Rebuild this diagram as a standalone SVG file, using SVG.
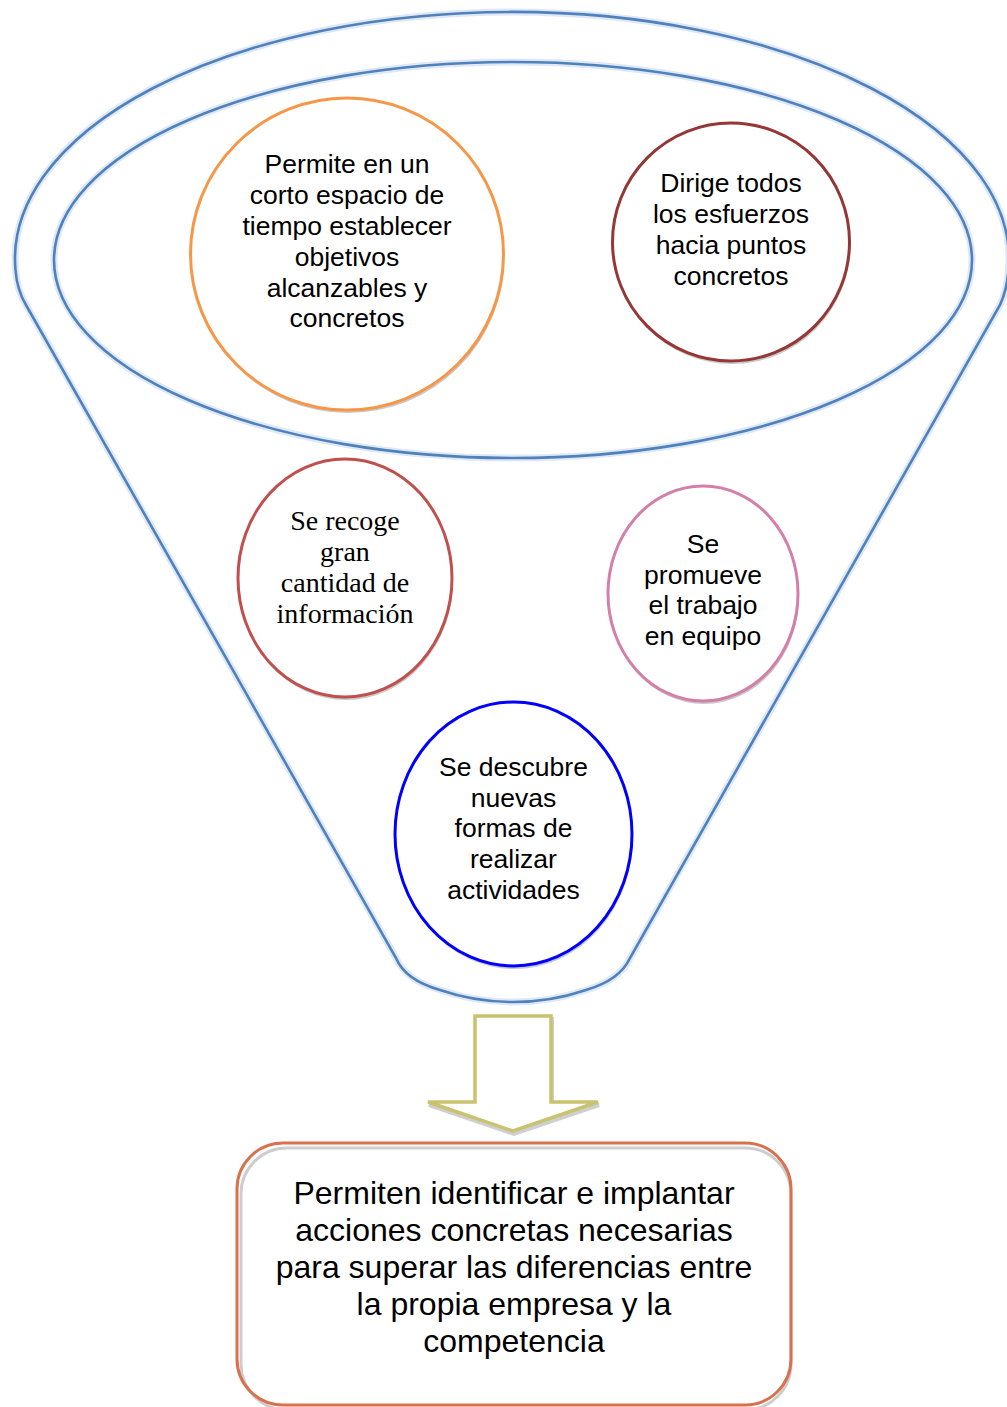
<svg xmlns="http://www.w3.org/2000/svg" width="1007" height="1407" viewBox="0 0 1007 1407">
<style>
.funnel{fill:none;stroke:#4F81BD;stroke-width:2.6}
.halo{fill:none;stroke:#c9d9ee;stroke-width:7;opacity:0.6}
.shadow{fill:#c9c9c9;stroke:none}
.node{fill:#ffffff;stroke-width:3}
.sans{font-family:"Liberation Sans",Arial,sans-serif;font-size:26.5px;fill:#000;text-anchor:middle}
.serif{font-family:"Liberation Serif","Times New Roman",serif;font-size:28px;fill:#000;text-anchor:middle}
.big{font-family:"Liberation Sans",Arial,sans-serif;font-size:32px;fill:#000;text-anchor:middle}
</style>
<defs>
<path id="funnel-shape" d="M 26 305 Q 17 290 15.5 270 A 497 247 0 1 1 1008.5 270 Q 1007 290 1000 305 L 630 958 Q 620 980 586 990 Q 551 1002 513 1002 Q 475 1002 440 990 Q 405 980 396 958 Z"/>
</defs>
<rect width="1007" height="1407" fill="#ffffff"/>
<g id="funnel">
<use href="#funnel-shape" class="halo"/>
<ellipse class="halo" cx="513" cy="260" rx="459" ry="198"/>
<use href="#funnel-shape" class="funnel"/>
<ellipse class="funnel" cx="513" cy="260" rx="459" ry="198"/>
</g>
<g id="node-objetivos">
<ellipse class="shadow" cx="348" cy="257" rx="156.5" ry="156"/>
<ellipse class="node" cx="347" cy="254" rx="156.5" ry="156" stroke="#F79646"/>
<text class="sans"><tspan x="347" y="173">Permite en un</tspan><tspan x="347" y="204">corto espacio de</tspan><tspan x="347" y="235">tiempo establecer</tspan><tspan x="347" y="266">objetivos</tspan><tspan x="347" y="297">alcanzables y</tspan><tspan x="347" y="327">concretos</tspan></text>
</g>
<g id="node-dirige">
<ellipse class="shadow" cx="732" cy="245" rx="118.5" ry="119"/>
<ellipse class="node" cx="731" cy="242" rx="118.5" ry="119" stroke="#953735"/>
<text class="sans"><tspan x="731" y="192">Dirige todos</tspan><tspan x="731" y="223">los esfuerzos</tspan><tspan x="731" y="254">hacia puntos</tspan><tspan x="731" y="285">concretos</tspan></text>
</g>
<g id="node-recoge">
<ellipse class="shadow" cx="346" cy="581" rx="107" ry="119"/>
<ellipse class="node" cx="345" cy="578" rx="107" ry="119" stroke="#C0504D"/>
<text class="serif"><tspan x="345" y="530">Se recoge</tspan><tspan x="345" y="561">gran</tspan><tspan x="345" y="592">cantidad de</tspan><tspan x="345" y="623">información</tspan></text>
</g>
<g id="node-equipo">
<ellipse class="shadow" cx="704" cy="596.5" rx="95" ry="107.5"/>
<ellipse class="node" cx="703" cy="593.5" rx="95" ry="107.5" stroke="#D47FA9"/>
<text class="sans"><tspan x="703" y="553">Se</tspan><tspan x="703" y="584">promueve</tspan><tspan x="703" y="614">el trabajo</tspan><tspan x="703" y="645">en equipo</tspan></text>
</g>
<g id="node-descubre">
<ellipse class="shadow" cx="514.5" cy="837" rx="118.5" ry="132"/>
<ellipse class="node" cx="513.5" cy="834" rx="118.5" ry="132" stroke="#0000FF" stroke-width="3.5"/>
<text class="sans"><tspan x="513.5" y="776">Se descubre</tspan><tspan x="513.5" y="807">nuevas</tspan><tspan x="513.5" y="837">formas de</tspan><tspan x="513.5" y="868">realizar</tspan><tspan x="513.5" y="899">actividades</tspan></text>
</g>
<g id="connectors">
<path d="M 476 1019 L 552 1019 L 552 1105 L 599 1105 L 514 1134 L 429 1105 L 476 1105 Z" fill="none" stroke="#cfcfcf" stroke-width="4"/>
<path d="M 475 1016 L 551 1016 L 551 1102 L 598 1102 L 513 1131 L 428 1102 L 475 1102 Z" fill="#ffffff" stroke="#C9C26E" stroke-width="3.5" stroke-linejoin="miter"/>
</g>
<g id="node-resultado">
<rect x="237" y="1143" width="554" height="262" rx="46" ry="46" fill="#ffffff"/>
<rect x="241" y="1148" width="550" height="262" rx="46" ry="46" fill="none" stroke="#cdcdcd" stroke-width="3"/>
<rect x="237" y="1143" width="554" height="262" rx="46" ry="46" fill="none" stroke="#D9714F" stroke-width="3"/>
<text class="big"><tspan x="514" y="1204">Permiten identificar e implantar</tspan><tspan x="514" y="1241">acciones concretas necesarias</tspan><tspan x="514" y="1278">para superar las diferencias entre</tspan><tspan x="514" y="1315">la propia empresa y la</tspan><tspan x="514" y="1352">competencia</tspan></text>
</g>
</svg>
